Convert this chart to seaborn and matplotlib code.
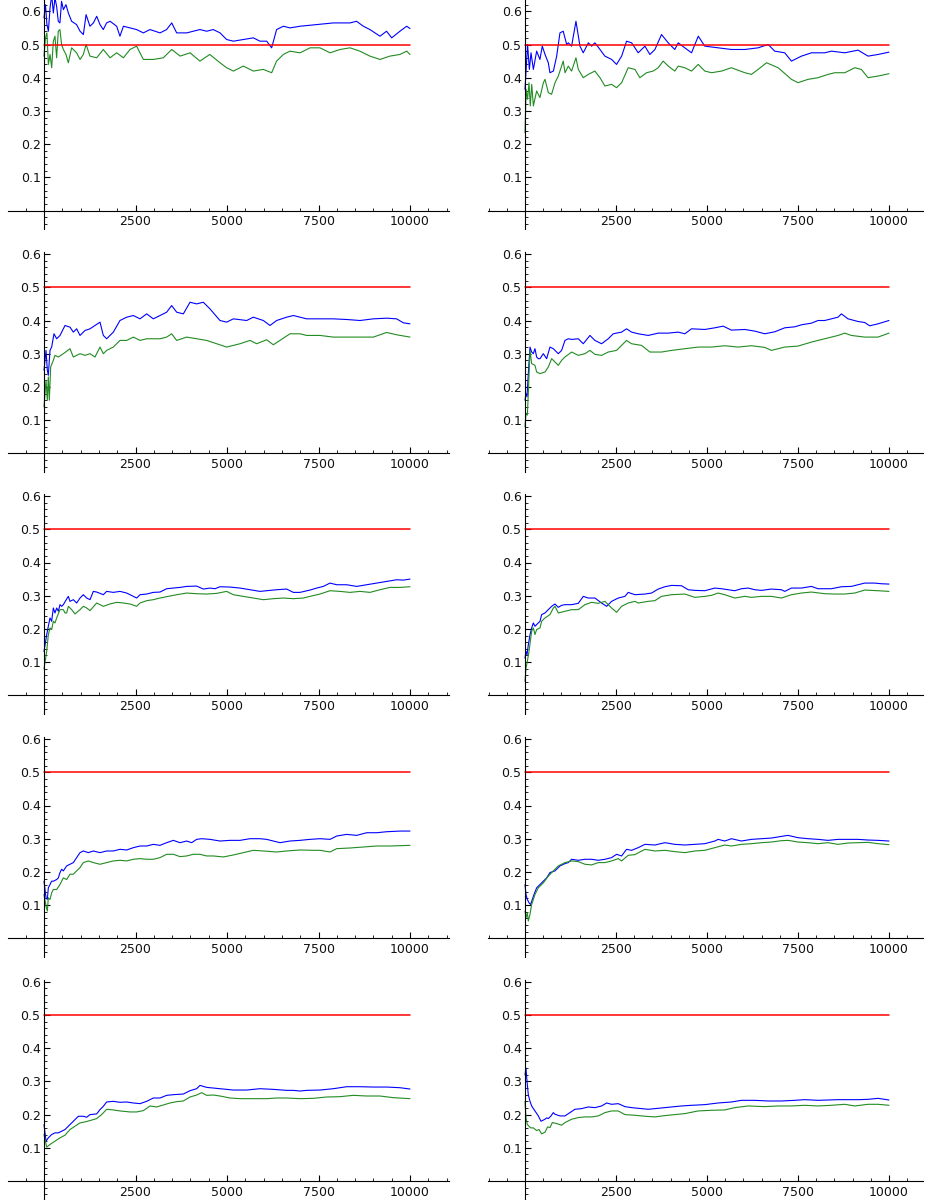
import matplotlib
matplotlib.use("Agg")
import matplotlib.pyplot as plt
import numpy as np
import seaborn as sns
from matplotlib.ticker import MultipleLocator

# ---------------- data ----------------
REF_X = [0, 10000]
REF_Y = [0.5, 0.5]

X_TICKS = [2500, 5000, 7500, 10000]
Y_TICKS = [0.1, 0.2, 0.3, 0.4, 0.5, 0.6]

# Panel 1 (row 1, left)
P1_BLUE_X = [0, 40, 80, 120, 165, 210, 255, 300, 345, 390, 435, 480, 530, 600, 665, 755, 890, 985, 1075, 1150,
             1255, 1350, 1440, 1530, 1620, 1710, 1805, 1985, 2075, 2170, 2350, 2530, 2715, 2895, 3170, 3350, 3490,
             3625, 3900, 4080, 4260, 4445, 4625, 4810, 4990, 5175, 5445, 5720, 5900, 6085, 6220, 6355, 6540, 6720,
             6995, 7450, 7905, 8360, 8540, 8725, 8905, 9180, 9360, 9500, 9725, 9910, 10000]
P1_BLUE_Y = [0.58, 0.62, 0.56, 0.54, 0.61, 0.65, 0.595, 0.64, 0.615, 0.57, 0.565, 0.63, 0.605, 0.62, 0.595, 0.57,
             0.56, 0.54, 0.53, 0.59, 0.555, 0.565, 0.585, 0.56, 0.545, 0.565, 0.57, 0.555, 0.525, 0.555, 0.55,
             0.545, 0.535, 0.545, 0.535, 0.545, 0.565, 0.535, 0.535, 0.54, 0.545, 0.54, 0.545, 0.535, 0.515, 0.51,
             0.515, 0.52, 0.51, 0.51, 0.49, 0.545, 0.555, 0.55, 0.555, 0.56, 0.565, 0.565, 0.57, 0.555, 0.545,
             0.525, 0.54, 0.52, 0.54, 0.555, 0.548]
P1_GREEN_X = [0, 40, 80, 120, 165, 210, 255, 300, 345, 390, 435, 480, 530, 600, 665, 755, 890, 985, 1075, 1150,
              1255, 1440, 1620, 1805, 1985, 2170, 2350, 2530, 2715, 2990, 3260, 3490, 3720, 3990, 4260, 4530, 4810,
              4990, 5175, 5445, 5720, 5990, 6220, 6355, 6540, 6720, 6995, 7270, 7540, 7815, 8090, 8360, 8630, 8905,
              9180, 9450, 9725, 9910, 10000]
P1_GREEN_Y = [0.465, 0.52, 0.535, 0.44, 0.47, 0.43, 0.51, 0.525, 0.46, 0.54, 0.545, 0.50, 0.485, 0.47, 0.445,
              0.49, 0.475, 0.455, 0.47, 0.50, 0.465, 0.46, 0.485, 0.46, 0.475, 0.46, 0.485, 0.495, 0.455, 0.455,
              0.46, 0.485, 0.465, 0.475, 0.45, 0.47, 0.445, 0.43, 0.42, 0.435, 0.42, 0.425, 0.415, 0.45, 0.47, 0.48,
              0.475, 0.49, 0.49, 0.475, 0.485, 0.49, 0.48, 0.465, 0.455, 0.465, 0.47, 0.48, 0.47]

# Panel 2 (row 1, right)
P2_BLUE_X = [0, 70, 120, 165, 230, 320, 410, 475, 550, 640, 685, 780, 870, 960, 1050, 1145, 1190, 1280, 1400, 1510,
             1600, 1740, 1830, 1920, 2060, 2195, 2380, 2515, 2655, 2790, 2930, 3110, 3295, 3430, 3570, 3750, 3935,
             4115, 4210, 4390, 4575, 4760, 4940, 5305, 5670, 6040, 6405, 6680, 6860, 7135, 7320, 7595, 7870, 8235,
             8420, 8785, 9150, 9425, 9700, 10000]
P2_BLUE_Y = [0.365, 0.5, 0.425, 0.475, 0.425, 0.48, 0.455, 0.495, 0.47, 0.445, 0.415, 0.42, 0.465, 0.535, 0.54,
             0.50, 0.505, 0.495, 0.57, 0.495, 0.475, 0.505, 0.495, 0.505, 0.485, 0.465, 0.455, 0.44, 0.465, 0.51,
             0.505, 0.475, 0.495, 0.47, 0.485, 0.53, 0.505, 0.485, 0.505, 0.49, 0.475, 0.525, 0.495, 0.49, 0.485,
             0.485, 0.49, 0.50, 0.48, 0.475, 0.45, 0.465, 0.475, 0.475, 0.48, 0.475, 0.483, 0.465, 0.47, 0.477]
P2_GREEN_X = [0, 30, 70, 110, 145, 185, 230, 320, 410, 505, 550, 640, 730, 825, 915, 1005, 1050, 1100, 1190, 1280,
              1400, 1465, 1600, 1740, 1920, 2060, 2195, 2380, 2515, 2655, 2835, 3020, 3155, 3340, 3520, 3660, 3795,
              3935, 4115, 4210, 4390, 4575, 4760, 4940, 5125, 5400, 5670, 6040, 6220, 6405, 6635, 6955, 7320, 7500,
              7775, 8050, 8325, 8510, 8785, 9060, 9240, 9425, 9700, 10000]
P2_GREEN_Y = [0.234, 0.365, 0.335, 0.385, 0.315, 0.38, 0.315, 0.36, 0.34, 0.385, 0.395, 0.355, 0.35, 0.385, 0.405,
              0.435, 0.45, 0.415, 0.435, 0.42, 0.46, 0.425, 0.40, 0.41, 0.42, 0.40, 0.375, 0.38, 0.37, 0.385, 0.43,
              0.425, 0.40, 0.415, 0.42, 0.43, 0.45, 0.435, 0.42, 0.435, 0.43, 0.42, 0.44, 0.42, 0.415, 0.42, 0.43,
              0.415, 0.41, 0.425, 0.445, 0.43, 0.395, 0.385, 0.395, 0.40, 0.41, 0.415, 0.415, 0.43, 0.425, 0.40,
              0.405, 0.412]

# Panel 3 (row 2, left)
P3_BLUE_X = [0, 55, 91, 118, 164, 209, 273, 346, 437, 574, 710, 801, 892, 984, 1120, 1257, 1393, 1530, 1621, 1712,
             1894, 2076, 2259, 2441, 2623, 2805, 2987, 3169, 3351, 3488, 3625, 3807, 3989, 4171, 4353, 4535, 4808,
             4991, 5173, 5537, 5719, 5992, 6175, 6357, 6630, 6812, 7176, 7541, 7905, 8269, 8633, 8998, 9362, 9635,
             9817, 10000]
P3_BLUE_Y = [0.25, 0.31, 0.25, 0.235, 0.31, 0.32, 0.36, 0.345, 0.355, 0.385, 0.38, 0.365, 0.375, 0.355, 0.37,
             0.375, 0.385, 0.395, 0.355, 0.345, 0.365, 0.40, 0.41, 0.415, 0.405, 0.42, 0.405, 0.415, 0.425, 0.445,
             0.425, 0.42, 0.455, 0.45, 0.455, 0.435, 0.40, 0.395, 0.405, 0.40, 0.41, 0.40, 0.385, 0.40, 0.41, 0.415,
             0.405, 0.405, 0.405, 0.403, 0.40, 0.405, 0.407, 0.405, 0.393, 0.39]
P3_GREEN_X = [0, 55, 91, 118, 146, 182, 255, 300, 392, 528, 710, 801, 984, 1120, 1257, 1393, 1530, 1621, 1712, 1894,
              2076, 2259, 2441, 2623, 2805, 2987, 3169, 3351, 3488, 3625, 3898, 4171, 4444, 4717, 4991, 5355, 5628,
              5810, 6083, 6266, 6448, 6721, 6994, 7176, 7541, 7905, 8269, 8633, 8998, 9362, 9635, 10000]
P3_GREEN_Y = [0.14, 0.22, 0.16, 0.23, 0.16, 0.26, 0.28, 0.295, 0.29, 0.30, 0.315, 0.29, 0.30, 0.295, 0.30, 0.29,
              0.32, 0.30, 0.31, 0.32, 0.34, 0.34, 0.35, 0.34, 0.345, 0.345, 0.345, 0.35, 0.36, 0.34, 0.35, 0.345,
              0.34, 0.33, 0.32, 0.33, 0.34, 0.33, 0.342, 0.327, 0.34, 0.36, 0.36, 0.355, 0.355, 0.35, 0.35, 0.35,
              0.35, 0.364, 0.357, 0.35]

# Panel 4 (row 2, right)
P4_BLUE_X = [0, 27, 55, 91, 137, 183, 229, 274, 320, 366, 412, 503, 595, 686, 778, 915, 1006, 1098, 1189, 1281,
             1464, 1601, 1784, 1921, 2104, 2287, 2424, 2653, 2790, 2928, 3111, 3385, 3660, 3934, 4209, 4392, 4575,
             4940, 5215, 5444, 5672, 6038, 6313, 6587, 6862, 7136, 7411, 7594, 7868, 8051, 8234, 8417, 8600, 8692,
             8875, 9149, 9332, 9469, 9698, 10000]
P4_BLUE_Y = [0.16, 0.18, 0.17, 0.24, 0.32, 0.305, 0.30, 0.315, 0.29, 0.285, 0.285, 0.30, 0.285, 0.32, 0.315, 0.30,
             0.31, 0.34, 0.345, 0.343, 0.345, 0.33, 0.355, 0.34, 0.33, 0.345, 0.36, 0.365, 0.375, 0.365, 0.36, 0.355,
             0.362, 0.362, 0.365, 0.36, 0.375, 0.373, 0.378, 0.383, 0.371, 0.373, 0.368, 0.36, 0.366, 0.378, 0.381,
             0.387, 0.392, 0.40, 0.40, 0.405, 0.41, 0.42, 0.405, 0.397, 0.394, 0.384, 0.39, 0.40]
P4_GREEN_X = [0, 27, 64, 91, 137, 183, 274, 320, 412, 549, 640, 732, 823, 915, 1006, 1098, 1281, 1464, 1647, 1784,
              1921, 2104, 2287, 2516, 2790, 2928, 3202, 3431, 3751, 4026, 4392, 4757, 5123, 5489, 5855, 6221, 6587,
              6770, 7136, 7502, 7868, 8234, 8600, 8783, 8966, 9332, 9698, 10000]
P4_GREEN_Y = [0.08, 0.12, 0.115, 0.18, 0.31, 0.27, 0.265, 0.245, 0.24, 0.245, 0.26, 0.285, 0.275, 0.265, 0.28, 0.29,
              0.305, 0.295, 0.30, 0.31, 0.298, 0.295, 0.305, 0.31, 0.34, 0.33, 0.325, 0.305, 0.305, 0.31, 0.315,
              0.32, 0.32, 0.324, 0.32, 0.324, 0.319, 0.31, 0.32, 0.323, 0.335, 0.345, 0.355, 0.362, 0.355, 0.35,
              0.35, 0.362]

# Panels 5-10 as (x, y) pairs
P5_BLUE = [(0, 0.132), (73, 0.182), (118, 0.208), (164, 0.233), (209, 0.223), (255, 0.263), (300, 0.248),
           (346, 0.263), (392, 0.253), (437, 0.273), (483, 0.268), (528, 0.273), (619, 0.29), (665, 0.298),
           (710, 0.283), (801, 0.288), (892, 0.278), (984, 0.293), (1075, 0.303), (1166, 0.293), (1257, 0.288),
           (1348, 0.313), (1439, 0.311), (1621, 0.303), (1712, 0.313), (1894, 0.31), (2076, 0.313), (2259, 0.308),
           (2441, 0.298), (2532, 0.293), (2623, 0.303), (2805, 0.305), (2987, 0.31), (3169, 0.311), (3351, 0.321),
           (3534, 0.323), (3716, 0.325), (3898, 0.328), (4171, 0.329), (4353, 0.32), (4535, 0.323), (4672, 0.321),
           (4808, 0.327), (5082, 0.326), (5355, 0.323), (5628, 0.318), (5901, 0.313), (6083, 0.315), (6357, 0.318),
           (6630, 0.32), (6812, 0.31), (6994, 0.31), (7267, 0.317), (7450, 0.323), (7632, 0.328), (7814, 0.338),
           (7996, 0.333), (8269, 0.333), (8542, 0.328), (8816, 0.333), (9089, 0.338), (9362, 0.343), (9635, 0.348),
           (9817, 0.347), (10000, 0.35)]
P5_GREEN = [(0, 0.08), (73, 0.132), (118, 0.182), (164, 0.203), (209, 0.198), (255, 0.223), (300, 0.218),
            (346, 0.233), (437, 0.258), (528, 0.258), (574, 0.248), (619, 0.248), (665, 0.268), (756, 0.258),
            (847, 0.245), (984, 0.258), (1075, 0.268), (1166, 0.263), (1257, 0.255), (1439, 0.278), (1621, 0.268),
            (1803, 0.275), (1985, 0.28), (2167, 0.278), (2350, 0.275), (2532, 0.268), (2623, 0.278), (2805, 0.285),
            (2987, 0.288), (3169, 0.293), (3351, 0.297), (3625, 0.303), (3898, 0.308), (4171, 0.306), (4444, 0.305),
            (4717, 0.307), (4991, 0.313), (5173, 0.303), (5446, 0.298), (5719, 0.293), (5992, 0.288), (6266, 0.291),
            (6539, 0.293), (6812, 0.291), (7085, 0.293), (7267, 0.298), (7541, 0.305), (7814, 0.315), (8087, 0.313),
            (8360, 0.31), (8633, 0.313), (8907, 0.31), (9180, 0.318), (9453, 0.325), (9726, 0.325), (10000, 0.327)]
P6_BLUE = [(0, 0.112), (27, 0.132), (55, 0.122), (91, 0.152), (137, 0.182), (183, 0.203), (229, 0.218),
           (274, 0.208), (320, 0.213), (412, 0.223), (457, 0.243), (549, 0.248), (640, 0.258), (732, 0.268),
           (823, 0.275), (915, 0.265), (1006, 0.271), (1098, 0.273), (1281, 0.273), (1464, 0.277), (1601, 0.298),
           (1738, 0.293), (1921, 0.293), (2104, 0.278), (2242, 0.268), (2379, 0.283), (2562, 0.293), (2745, 0.298),
           (2836, 0.31), (3019, 0.303), (3294, 0.305), (3477, 0.308), (3660, 0.32), (3843, 0.327), (4026, 0.331),
           (4300, 0.33), (4483, 0.318), (4666, 0.316), (4940, 0.315), (5215, 0.323), (5398, 0.321), (5581, 0.318),
           (5764, 0.315), (5947, 0.321), (6130, 0.323), (6313, 0.318), (6496, 0.316), (6770, 0.32), (7045, 0.318),
           (7136, 0.313), (7319, 0.323), (7594, 0.323), (7868, 0.328), (8051, 0.321), (8234, 0.321), (8417, 0.321),
           (8692, 0.327), (8966, 0.328), (9149, 0.333), (9332, 0.338), (9606, 0.338), (9789, 0.336), (10000, 0.335)]
P6_GREEN = [(0, 0.042), (27, 0.082), (64, 0.102), (110, 0.132), (146, 0.162), (183, 0.193), (229, 0.203),
            (274, 0.183), (320, 0.198), (412, 0.203), (457, 0.223), (549, 0.233), (686, 0.243), (778, 0.263),
            (823, 0.268), (915, 0.248), (1098, 0.253), (1281, 0.258), (1464, 0.258), (1647, 0.273), (1830, 0.28),
            (2013, 0.277), (2196, 0.283), (2379, 0.263), (2516, 0.25), (2653, 0.268), (2836, 0.278), (3019, 0.283),
            (3111, 0.278), (3385, 0.283), (3568, 0.285), (3751, 0.298), (4026, 0.303), (4392, 0.305), (4666, 0.295),
            (4940, 0.298), (5123, 0.301), (5306, 0.308), (5489, 0.303), (5764, 0.293), (6038, 0.298), (6221, 0.295),
            (6496, 0.298), (6770, 0.298), (7045, 0.293), (7319, 0.303), (7594, 0.308), (7868, 0.311), (8234, 0.306),
            (8509, 0.305), (8783, 0.305), (9058, 0.308), (9332, 0.317), (9698, 0.315), (10000, 0.313)]
P7_BLUE = [(0, 0.172), (55, 0.122), (91, 0.117), (118, 0.152), (164, 0.162), (209, 0.172), (255, 0.172),
           (346, 0.177), (392, 0.182), (437, 0.198), (483, 0.208), (528, 0.203), (619, 0.218), (710, 0.223),
           (801, 0.228), (892, 0.243), (984, 0.258), (1075, 0.263), (1212, 0.258), (1348, 0.263), (1530, 0.258),
           (1712, 0.263), (1894, 0.263), (2076, 0.268), (2259, 0.266), (2441, 0.273), (2623, 0.278), (2805, 0.278),
           (2987, 0.283), (3169, 0.28), (3351, 0.288), (3534, 0.295), (3716, 0.288), (3898, 0.293), (4035, 0.288),
           (4171, 0.298), (4308, 0.30), (4535, 0.298), (4808, 0.293), (5082, 0.295), (5355, 0.295), (5628, 0.30),
           (5901, 0.30), (6083, 0.298), (6266, 0.293), (6448, 0.288), (6721, 0.293), (6994, 0.295), (7267, 0.298),
           (7541, 0.30), (7814, 0.298), (7996, 0.308), (8269, 0.313), (8542, 0.31), (8816, 0.318), (9089, 0.318),
           (9362, 0.321), (9726, 0.323), (10000, 0.323)]
P7_GREEN = [(0, 0.132), (55, 0.097), (91, 0.082), (118, 0.122), (164, 0.117), (209, 0.137), (255, 0.147),
            (346, 0.147), (437, 0.162), (528, 0.182), (619, 0.177), (710, 0.193), (801, 0.193), (892, 0.203),
            (984, 0.213), (1075, 0.228), (1212, 0.233), (1348, 0.228), (1530, 0.223), (1712, 0.228), (1894, 0.233),
            (2076, 0.235), (2259, 0.233), (2441, 0.238), (2623, 0.24), (2805, 0.238), (2987, 0.238), (3169, 0.243),
            (3351, 0.253), (3534, 0.253), (3716, 0.246), (3898, 0.248), (4080, 0.253), (4262, 0.253), (4444, 0.248),
            (4626, 0.248), (4899, 0.245), (5173, 0.251), (5446, 0.258), (5719, 0.265), (5992, 0.263), (6357, 0.26),
            (6630, 0.263), (6994, 0.266), (7359, 0.265), (7541, 0.265), (7814, 0.26), (7996, 0.27), (8360, 0.272),
            (8724, 0.275), (9089, 0.278), (9453, 0.278), (10000, 0.28)]
P8_BLUE = [(0, 0.162), (27, 0.132), (64, 0.117), (110, 0.107), (155, 0.102), (201, 0.117), (247, 0.132),
           (320, 0.152), (412, 0.162), (503, 0.172), (595, 0.182), (686, 0.198), (823, 0.203), (961, 0.218),
           (1098, 0.225), (1189, 0.228), (1281, 0.238), (1464, 0.235), (1647, 0.238), (1830, 0.238), (2013, 0.235),
           (2196, 0.238), (2379, 0.243), (2516, 0.253), (2653, 0.248), (2790, 0.268), (2928, 0.265), (3111, 0.273),
           (3294, 0.283), (3568, 0.281), (3843, 0.288), (4117, 0.283), (4392, 0.281), (4666, 0.283), (4940, 0.285),
           (5215, 0.293), (5306, 0.298), (5489, 0.293), (5672, 0.30), (5947, 0.293), (6221, 0.298), (6496, 0.30),
           (6770, 0.302), (7045, 0.307), (7227, 0.31), (7502, 0.303), (7777, 0.30), (8051, 0.298), (8326, 0.295),
           (8600, 0.298), (8875, 0.298), (9149, 0.298), (9423, 0.296), (9698, 0.295), (10000, 0.293)]
P8_GREEN = [(0, 0.082), (27, 0.062), (64, 0.077), (91, 0.052), (137, 0.072), (183, 0.102), (274, 0.132),
            (366, 0.152), (503, 0.167), (640, 0.187), (778, 0.203), (915, 0.218), (1098, 0.228), (1281, 0.233),
            (1464, 0.231), (1647, 0.223), (1830, 0.221), (2013, 0.228), (2196, 0.228), (2379, 0.233), (2562, 0.24),
            (2653, 0.233), (2836, 0.25), (3019, 0.252), (3294, 0.268), (3568, 0.263), (3843, 0.265), (4117, 0.261),
            (4392, 0.258), (4666, 0.263), (4940, 0.265), (5215, 0.273), (5489, 0.281), (5672, 0.278), (5947, 0.283),
            (6221, 0.285), (6496, 0.288), (6770, 0.29), (7045, 0.294), (7227, 0.295), (7502, 0.29), (7777, 0.288),
            (8051, 0.285), (8326, 0.288), (8600, 0.283), (8875, 0.287), (9149, 0.288), (9423, 0.289), (9698, 0.285),
            (10000, 0.282)]
P9_BLUE = [(0, 0.17), (55, 0.12), (118, 0.13), (209, 0.14), (300, 0.145), (392, 0.145), (483, 0.15), (574, 0.155),
           (665, 0.165), (756, 0.175), (847, 0.185), (938, 0.195), (1075, 0.195), (1166, 0.192), (1257, 0.2),
           (1439, 0.202), (1530, 0.215), (1621, 0.225), (1712, 0.238), (1894, 0.24), (2076, 0.237), (2259, 0.238),
           (2441, 0.235), (2623, 0.233), (2805, 0.24), (2987, 0.25), (3169, 0.25), (3351, 0.258), (3534, 0.26),
           (3807, 0.262), (3989, 0.272), (4171, 0.278), (4262, 0.288), (4444, 0.282), (4626, 0.28), (4808, 0.278),
           (5173, 0.274), (5537, 0.274), (5901, 0.278), (6266, 0.276), (6630, 0.273), (6812, 0.273), (6994, 0.271),
           (7176, 0.273), (7541, 0.274), (7905, 0.278), (8269, 0.284), (8633, 0.284), (8998, 0.283), (9362, 0.283),
           (9726, 0.281), (10000, 0.277)]
P9_GREEN = [(0, 0.14), (73, 0.102), (164, 0.11), (300, 0.12), (437, 0.13), (574, 0.138), (710, 0.155), (847, 0.165),
            (984, 0.175), (1120, 0.178), (1257, 0.182), (1439, 0.188), (1575, 0.2), (1712, 0.216), (1894, 0.214),
            (2076, 0.211), (2350, 0.208), (2532, 0.208), (2714, 0.212), (2896, 0.226), (3078, 0.223), (3260, 0.229),
            (3442, 0.235), (3625, 0.239), (3807, 0.241), (3989, 0.253), (4171, 0.259), (4308, 0.266), (4444, 0.258),
            (4626, 0.259), (4808, 0.256), (5082, 0.25), (5355, 0.248), (5719, 0.248), (6083, 0.248), (6357, 0.25),
            (6630, 0.25), (6994, 0.248), (7359, 0.249), (7723, 0.253), (8087, 0.254), (8451, 0.258), (8816, 0.256),
            (9180, 0.256), (9544, 0.251), (10000, 0.248)]
P10_BLUE = [(0, 0.32), (27, 0.34), (55, 0.30), (91, 0.26), (137, 0.24), (183, 0.226), (274, 0.211), (366, 0.196),
            (439, 0.18), (549, 0.186), (595, 0.19), (640, 0.188), (714, 0.196), (778, 0.206), (823, 0.201),
            (961, 0.196), (1098, 0.196), (1235, 0.206), (1372, 0.216), (1555, 0.218), (1738, 0.223), (1921, 0.221),
            (2104, 0.226), (2242, 0.235), (2379, 0.231), (2562, 0.233), (2745, 0.224), (2928, 0.221), (3111, 0.219),
            (3385, 0.216), (3660, 0.219), (3843, 0.221), (4026, 0.223), (4300, 0.226), (4575, 0.228), (4940, 0.23),
            (5306, 0.235), (5672, 0.238), (5947, 0.243), (6313, 0.243), (6679, 0.241), (7045, 0.241), (7411, 0.243),
            (7685, 0.245), (8051, 0.243), (8326, 0.244), (8600, 0.245), (8875, 0.245), (9149, 0.245), (9423, 0.246),
            (9698, 0.249), (10000, 0.244)]
P10_GREEN = [(0, 0.24), (27, 0.19), (64, 0.17), (110, 0.165), (155, 0.16), (229, 0.16), (320, 0.152), (384, 0.155),
             (457, 0.142), (549, 0.147), (622, 0.163), (686, 0.161), (750, 0.176), (869, 0.173), (1006, 0.168),
             (1098, 0.176), (1281, 0.186), (1464, 0.191), (1647, 0.193), (1830, 0.193), (2013, 0.196), (2196, 0.206),
             (2379, 0.211), (2562, 0.211), (2745, 0.2), (3019, 0.198), (3294, 0.195), (3568, 0.193), (3843, 0.197),
             (4117, 0.2), (4392, 0.203), (4757, 0.211), (5123, 0.213), (5489, 0.214), (5764, 0.221), (6130, 0.226),
             (6587, 0.224), (6953, 0.226), (7319, 0.226), (7685, 0.228), (8051, 0.226), (8417, 0.228), (8783, 0.231),
             (9058, 0.226), (9423, 0.231), (9698, 0.231), (10000, 0.228)]


def unzip(pairs):
    return [p[0] for p in pairs], [p[1] for p in pairs]


PANELS = [
    ((P1_BLUE_X, P1_BLUE_Y), (P1_GREEN_X, P1_GREEN_Y)),
    ((P2_BLUE_X, P2_BLUE_Y), (P2_GREEN_X, P2_GREEN_Y)),
    ((P3_BLUE_X, P3_BLUE_Y), (P3_GREEN_X, P3_GREEN_Y)),
    ((P4_BLUE_X, P4_BLUE_Y), (P4_GREEN_X, P4_GREEN_Y)),
    (unzip(P5_BLUE), unzip(P5_GREEN)),
    (unzip(P6_BLUE), unzip(P6_GREEN)),
    (unzip(P7_BLUE), unzip(P7_GREEN)),
    (unzip(P8_BLUE), unzip(P8_GREEN)),
    (unzip(P9_BLUE), unzip(P9_GREEN)),
    (unzip(P10_BLUE), unzip(P10_GREEN)),
]

BLUE = "#0000ff"
GREEN = "#228b22"
RED = "#ff0000"

# ---------------- styling / layout ----------------
sns.set_style("white")
plt.rcParams["font.family"] = ["DejaVu Sans"]

W, H = 925, 1200
fig = plt.figure(figsize=(W / 100, H / 100), dpi=100)

# pixel layout: (axes left px, axes right px, px of x=0, px of x=10000)
COLS = [(8, 449, 44, 410), (488, 923, 525, 889)]
ZERO_ROW_PX = [210.5, 453.3, 695.3, 938.3, 1181.0]
PX_PER_Y = 332.0
Y_BOTTOM = -0.055
Y_TOP = 0.605

for i, (blue, green) in enumerate(PANELS):
    r, c = divmod(i, 2)
    L, R, x0, x1 = COLS[c]
    s = (x1 - x0) / 10000.0
    xlim = ((L - x0) / s, (R - x0) / s)
    z = ZERO_ROW_PX[r]
    top_val = Y_TOP if r > 0 else z / PX_PER_Y
    top_px = z - top_val * PX_PER_Y
    bot_px = z - Y_BOTTOM * PX_PER_Y
    ax = fig.add_axes([L / W, 1 - bot_px / H, (R - L) / W, (bot_px - top_px) / H])
    ax.set_facecolor("white")

    sns.lineplot(x=blue[0], y=blue[1], ax=ax, color=BLUE, linewidth=0.8, estimator=None, sort=False)
    sns.lineplot(x=green[0], y=green[1], ax=ax, color=GREEN, linewidth=0.8, estimator=None, sort=False)
    sns.lineplot(x=REF_X, y=REF_Y, ax=ax, color=RED, linewidth=1.1, estimator=None, sort=False)

    ax.set_xlim(*xlim)
    ax.set_ylim(Y_BOTTOM, top_val)
    ax.set_xlabel("")
    ax.set_ylabel("")

    for side in ("top", "right"):
        ax.spines[side].set_visible(False)
    for side in ("left", "bottom"):
        ax.spines[side].set_position(("data", 0))
        ax.spines[side].set_color("black")
        ax.spines[side].set_linewidth(0.8)

    ax.set_xticks(X_TICKS)
    ax.set_xticklabels([str(t) for t in X_TICKS])
    ax.set_yticks(Y_TICKS)
    ax.set_yticklabels([f"{t:.1f}" for t in Y_TICKS])
    ax.xaxis.set_minor_locator(MultipleLocator(500))
    ax.yaxis.set_minor_locator(MultipleLocator(0.02))
    ax.tick_params(which="major", direction="in", length=4, width=0.8, color="black",
                   labelsize=9, labelcolor="#111111")
    ax.tick_params(which="minor", direction="in", length=2, width=0.6, color="black")
    ax.tick_params(axis="y", which="major", pad=2.5, left=True)
    ax.tick_params(axis="x", which="major", pad=3.5, bottom=True)
    ax.tick_params(axis="y", which="minor", left=True)
    ax.tick_params(axis="x", which="minor", bottom=True)
    ax.grid(False)

fig.savefig("out.png", dpi=100, facecolor="white")
